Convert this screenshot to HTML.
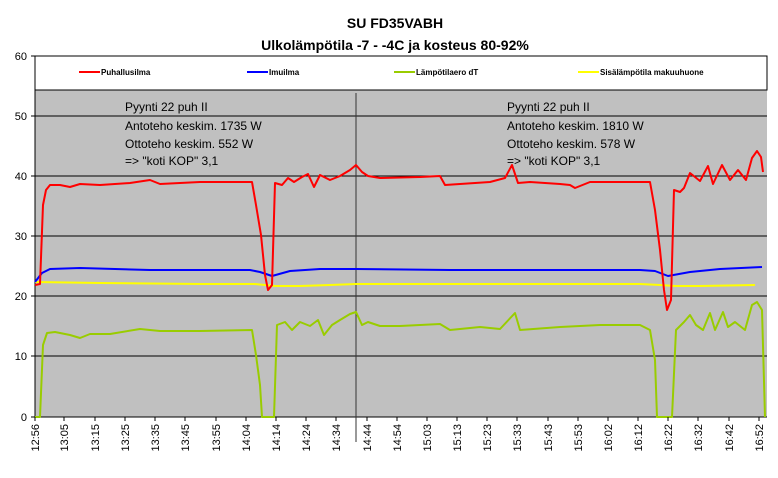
<!DOCTYPE html>
<html><head><meta charset="utf-8"><style>body{margin:0;background:#fff}svg{display:block}text{font-family:"Liberation Sans",sans-serif}</style></head><body>
<svg width="778" height="478" xmlns="http://www.w3.org/2000/svg">
<text x="395" y="28" font-size="14" font-weight="bold" text-anchor="middle">SU FD35VABH</text>
<text x="395" y="50" font-size="14" font-weight="bold" text-anchor="middle">Ulkolämpötila -7 - -4C ja kosteus 80-92%</text>
<rect x="35" y="56" width="732" height="361" fill="#c0c0c0"/>
<rect x="35" y="56" width="732" height="34" fill="#fff" stroke="#000" stroke-width="1"/>
<g stroke="#000" stroke-width="1">
<line x1="35" y1="116" x2="767" y2="116"/><line x1="35" y1="176" x2="767" y2="176"/><line x1="35" y1="236" x2="767" y2="236"/><line x1="35" y1="296" x2="767" y2="296"/><line x1="35" y1="356" x2="767" y2="356"/>
<line x1="35" y1="56" x2="35" y2="417"/><line x1="35" y1="417" x2="767" y2="417"/>
<line x1="356" y1="93" x2="356" y2="442" stroke="#333"/>
<line x1="31" y1="56" x2="35" y2="56"/><line x1="31" y1="116" x2="35" y2="116"/><line x1="31" y1="176" x2="35" y2="176"/><line x1="31" y1="236" x2="35" y2="236"/><line x1="31" y1="296" x2="35" y2="296"/><line x1="31" y1="356" x2="35" y2="356"/><line x1="31" y1="417" x2="35" y2="417"/>
</g>
<g font-size="11" text-anchor="end"><text x="27" y="60">60</text><text x="27" y="120">50</text><text x="27" y="180">40</text><text x="27" y="240">30</text><text x="27" y="300">20</text><text x="27" y="360">10</text><text x="27" y="421">0</text></g>
<g font-size="8" font-weight="bold">
<line x1="79" y1="72" x2="100" y2="72" stroke="#f00" stroke-width="2"/><text x="101" y="75">Puhallusilma</text>
<line x1="247" y1="72" x2="268" y2="72" stroke="#00f" stroke-width="2"/><text x="269" y="75">Imuilma</text>
<line x1="394" y1="72" x2="415" y2="72" stroke="#9c0" stroke-width="2"/><text x="416" y="75">Lämpötilaero dT</text>
<line x1="578" y1="72" x2="599" y2="72" stroke="#ff0" stroke-width="2"/><text x="600" y="75">Sisälämpötila makuuhuone</text>
</g>
<g font-size="12" fill="#000">
<text x="125" y="111">Pyynti 22 puh II</text><text x="125" y="130">Antoteho keskim. 1735 W</text><text x="125" y="148">Ottoteho keskim. 552 W</text><text x="125" y="165">=&gt; "koti KOP" 3,1</text>
<text x="507" y="111">Pyynti 22 puh II</text><text x="507" y="130">Antoteho keskim. 1810 W</text><text x="507" y="148">Ottoteho keskim. 578 W</text><text x="507" y="165">=&gt; "koti KOP" 3,1</text>
</g>
<g fill="none" stroke-width="2" stroke-linejoin="round">
<polyline stroke="#ff0" points="35,282 100,283 200,284 255,284 275,286 300,286 330,285 356,284 450,284 550,284 640,284 660,285 675,286 700,286 755,285"/>
<polyline stroke="#00f" points="35,282 42,273 50,269 80,268 150,270 250,270 260,272 272,276 290,271 320,269 356,269 450,270 550,270 640,270 655,271 668,276 690,272 720,269 762,267"/>
<polyline stroke="#9c0" points="35,417 40,417 43,345 47,333 55,332 70,335 80,338 90,334 110,334 140,329 160,331 200,331 252,330 256,355 260,385 262,417 274,417 277,325 285,322 292,330 300,322 310,326 318,320 324,335 332,325 340,320 350,314 356,312 362,325 368,322 380,326 400,326 440,324 450,330 480,327 500,329 515,313 520,330 560,327 600,325 640,325 650,330 655,360 657,417 672,417 676,330 684,322 690,315 696,325 703,330 710,313 715,330 723,312 728,327 735,322 745,330 752,305 757,302 762,310 765,417"/>
<polyline stroke="#f00" points="35,285 40,284 43,205 46,190 50,185 60,185 70,187 80,184 100,185 130,183 150,180 160,184 200,182 252,182 256,205 261,235 265,275 268,290 272,285 275,183 282,185 288,178 294,182 302,177 308,174 314,187 320,175 330,180 340,176 350,170 356,165 362,172 368,176 380,178 420,177 440,176 445,185 460,184 490,182 505,178 512,165 518,183 530,182 560,184 570,185 575,188 590,182 640,182 650,182 655,210 660,250 664,290 667,310 671,300 674,190 680,192 684,188 690,173 700,181 708,166 713,184 722,165 730,180 738,170 746,180 752,158 757,151 761,157 763,172"/>
</g>
<g stroke="#000"><line x1="35" y1="417" x2="35" y2="421"/><line x1="64" y1="417" x2="64" y2="421"/><line x1="95" y1="417" x2="95" y2="421"/><line x1="125" y1="417" x2="125" y2="421"/><line x1="155" y1="417" x2="155" y2="421"/><line x1="185" y1="417" x2="185" y2="421"/><line x1="216" y1="417" x2="216" y2="421"/><line x1="246" y1="417" x2="246" y2="421"/><line x1="276" y1="417" x2="276" y2="421"/><line x1="306" y1="417" x2="306" y2="421"/><line x1="336" y1="417" x2="336" y2="421"/><line x1="367" y1="417" x2="367" y2="421"/><line x1="397" y1="417" x2="397" y2="421"/><line x1="427" y1="417" x2="427" y2="421"/><line x1="457" y1="417" x2="457" y2="421"/><line x1="487" y1="417" x2="487" y2="421"/><line x1="517" y1="417" x2="517" y2="421"/><line x1="548" y1="417" x2="548" y2="421"/><line x1="578" y1="417" x2="578" y2="421"/><line x1="608" y1="417" x2="608" y2="421"/><line x1="638" y1="417" x2="638" y2="421"/><line x1="668" y1="417" x2="668" y2="421"/><line x1="698" y1="417" x2="698" y2="421"/><line x1="729" y1="417" x2="729" y2="421"/><line x1="759" y1="417" x2="759" y2="421"/></g>
<g font-size="11" text-anchor="end">
<text transform="translate(39,424) rotate(-90)">12:56</text><text transform="translate(68,424) rotate(-90)">13:05</text><text transform="translate(99,424) rotate(-90)">13:15</text><text transform="translate(129,424) rotate(-90)">13:25</text><text transform="translate(159,424) rotate(-90)">13:35</text><text transform="translate(189,424) rotate(-90)">13:45</text><text transform="translate(220,424) rotate(-90)">13:55</text><text transform="translate(250,424) rotate(-90)">14:04</text><text transform="translate(280,424) rotate(-90)">14:14</text><text transform="translate(310,424) rotate(-90)">14:24</text><text transform="translate(340,424) rotate(-90)">14:34</text><text transform="translate(371,424) rotate(-90)">14:44</text><text transform="translate(401,424) rotate(-90)">14:54</text><text transform="translate(431,424) rotate(-90)">15:03</text><text transform="translate(461,424) rotate(-90)">15:13</text><text transform="translate(491,424) rotate(-90)">15:23</text><text transform="translate(521,424) rotate(-90)">15:33</text><text transform="translate(552,424) rotate(-90)">15:43</text><text transform="translate(582,424) rotate(-90)">15:53</text><text transform="translate(612,424) rotate(-90)">16:02</text><text transform="translate(642,424) rotate(-90)">16:12</text><text transform="translate(672,424) rotate(-90)">16:22</text><text transform="translate(702,424) rotate(-90)">16:32</text><text transform="translate(733,424) rotate(-90)">16:42</text><text transform="translate(763,424) rotate(-90)">16:52</text>
</g>
</svg>
</body></html>
